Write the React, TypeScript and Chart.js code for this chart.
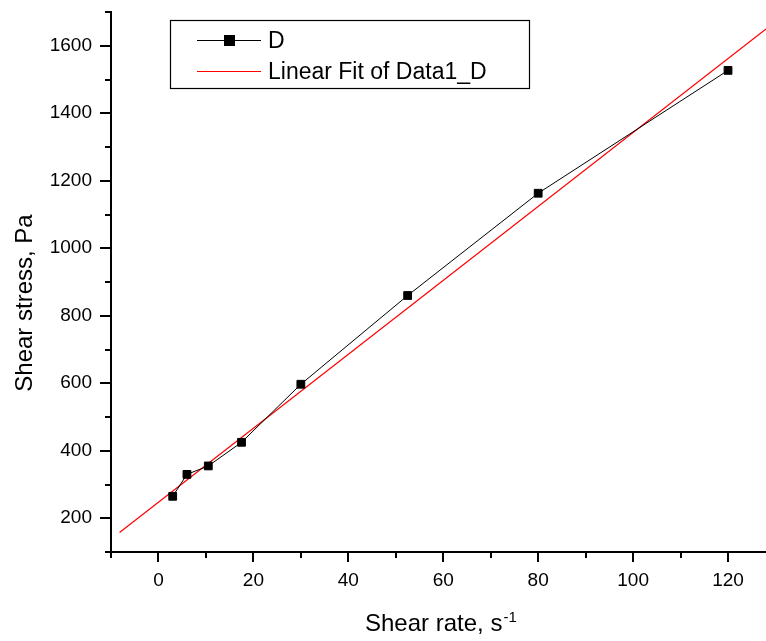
import React, { useEffect, useRef } from 'react';
import { Chart, registerables } from 'chart.js';

Chart.register(...registerables);

const shearRate = [3, 6, 10.5, 17.5, 30, 52.5, 80, 120];
const shearStress = [265, 330, 355, 425, 597, 860, 1163, 1527];
const fitX = [-8.2, 128];
const fitY = [158, 1650];
const xMajorTicks = [0, 20, 40, 60, 80, 100, 120];
const xMinorTicks = [-10, 10, 30, 50, 70, 90, 110];
const yMajorTicks = [200, 400, 600, 800, 1000, 1200, 1400, 1600];
const yMinorTicks = [100, 300, 500, 700, 900, 1100, 1300, 1500, 1700];
const seriesLabel = 'D';
const fitLabel = 'Linear Fit of Data1_D';
const xTitle = 'Shear rate, s';
const xTitleSup = '-1';
const yTitle = 'Shear stress, Pa';

const FONT = '"Liberation Sans", Arial, Helvetica, sans-serif';

const decorPlugin = {
  id: 'decor',
  afterDraw(chart: any) {
    const ctx = chart.ctx;
    const xs = chart.scales.x;
    const ys = chart.scales.y;
    const area = chart.chartArea;
    ctx.save();
    ctx.strokeStyle = '#000';
    ctx.lineWidth = 2;
    const drawX = (v: number, len: number) => {
      const px = Math.round(xs.getPixelForValue(v));
      ctx.beginPath();
      ctx.moveTo(px, area.bottom);
      ctx.lineTo(px, area.bottom + len);
      ctx.stroke();
    };
    xMajorTicks.forEach((v) => drawX(v, 10));
    xMinorTicks.forEach((v) => drawX(v, 6));
    const drawY = (v: number, len: number) => {
      const py = Math.round(ys.getPixelForValue(v));
      ctx.beginPath();
      ctx.moveTo(area.left, py);
      ctx.lineTo(area.left - len, py);
      ctx.stroke();
    };
    yMajorTicks.forEach((v) => drawY(v, 11));
    yMinorTicks.forEach((v) => drawY(v, 6));

    ctx.fillStyle = '#000';
    ctx.font = `24px ${FONT}`;
    ctx.textAlign = 'left';
    ctx.textBaseline = 'alphabetic';
    ctx.fillText(xTitle, 365, 631);
    const w = ctx.measureText(xTitle).width;
    ctx.font = `15px ${FONT}`;
    ctx.fillText(xTitleSup, 365 + w + 1, 622);

    ctx.save();
    ctx.font = `24px ${FONT}`;
    ctx.translate(32, 303);
    ctx.rotate(-Math.PI / 2);
    ctx.textAlign = 'center';
    ctx.fillText(yTitle, 0, 0);
    ctx.restore();

    ctx.lineWidth = 1.2;
    ctx.strokeStyle = '#000';
    ctx.strokeRect(170.5, 20.5, 359, 68);
    const ds = chart.data.datasets;
    const rows = [40.5, 71.5];
    ds.forEach((d: any, i: number) => {
      const y = rows[i];
      ctx.beginPath();
      ctx.strokeStyle = d.borderColor;
      ctx.lineWidth = 1;
      ctx.moveTo(197, y);
      ctx.lineTo(261, y);
      ctx.stroke();
      if (d.pointRadius > 0) {
        ctx.fillStyle = '#000';
        ctx.fillRect(224, y - 5.5, 11, 11);
      }
      ctx.fillStyle = '#000';
      ctx.font = `23px ${FONT}`;
      ctx.textAlign = 'left';
      ctx.textBaseline = 'middle';
      ctx.fillText(d.label, 268, y + 1);
    });
    ctx.restore();
  },
};

export default function App() {
  const ref = useRef<HTMLCanvasElement>(null);
  useEffect(() => {
    if (!ref.current) return;
    const chart = new Chart(ref.current, {
      type: 'scatter',
      data: {
        datasets: [
          {
            label: seriesLabel,
            data: shearRate.map((x, i) => ({ x, y: shearStress[i] })),
            showLine: true,
            borderColor: '#000',
            backgroundColor: '#000',
            borderWidth: 1,
            pointStyle: 'rect',
            pointRadius: 5.5,
            pointBorderWidth: 1,
            pointBackgroundColor: '#000',
            pointBorderColor: '#000',
            order: 1,
          },
          {
            label: fitLabel,
            data: fitX.map((x, i) => ({ x, y: fitY[i] })),
            showLine: true,
            borderColor: '#ff0000',
            backgroundColor: '#ff0000',
            borderWidth: 1.2,
            pointRadius: 0,
            order: 2,
          },
        ],
      },
      options: {
        responsive: false,
        animation: false,
        devicePixelRatio: 1,
        layout: { autoPadding: false, padding: { top: 12, right: 0, left: 0, bottom: 0 } },
        plugins: { legend: { display: false }, tooltip: { enabled: false } },
        scales: {
          x: {
            type: 'linear',
            min: -10,
            max: 128,
            afterFit: (s: any) => { s.height = 89; s.paddingLeft = 0; s.paddingRight = 0; },
            afterBuildTicks: (s: any) => { s.ticks = xMajorTicks.map((v) => ({ value: v })); },
            grid: { display: false, drawTicks: false },
            border: { display: true, color: '#000', width: 2 },
            ticks: { color: '#000', font: { family: FONT, size: 19 }, padding: 17, maxRotation: 0, autoSkip: false, callback: (v: any) => String(v) },
          },
          y: {
            type: 'linear',
            min: 100,
            max: 1700,
            afterFit: (s: any) => { s.width = 111; s.paddingTop = 0; s.paddingBottom = 0; },
            afterBuildTicks: (s: any) => { s.ticks = yMajorTicks.map((v) => ({ value: v })); },
            grid: { display: false, drawTicks: false },
            border: { display: true, color: '#000', width: 2 },
            ticks: { color: '#000', font: { family: FONT, size: 19 }, padding: 19, autoSkip: false, callback: (v: any) => String(v) },
          },
        },
      },
      plugins: [decorPlugin],
    });
    return () => chart.destroy();
  }, []);
  return (
    <canvas
      ref={ref}
      width={766}
      height={641}
      style={{ position: 'fixed', left: 0, top: 0, width: 766, height: 641, background: '#fff' }}
    />
  );
}
